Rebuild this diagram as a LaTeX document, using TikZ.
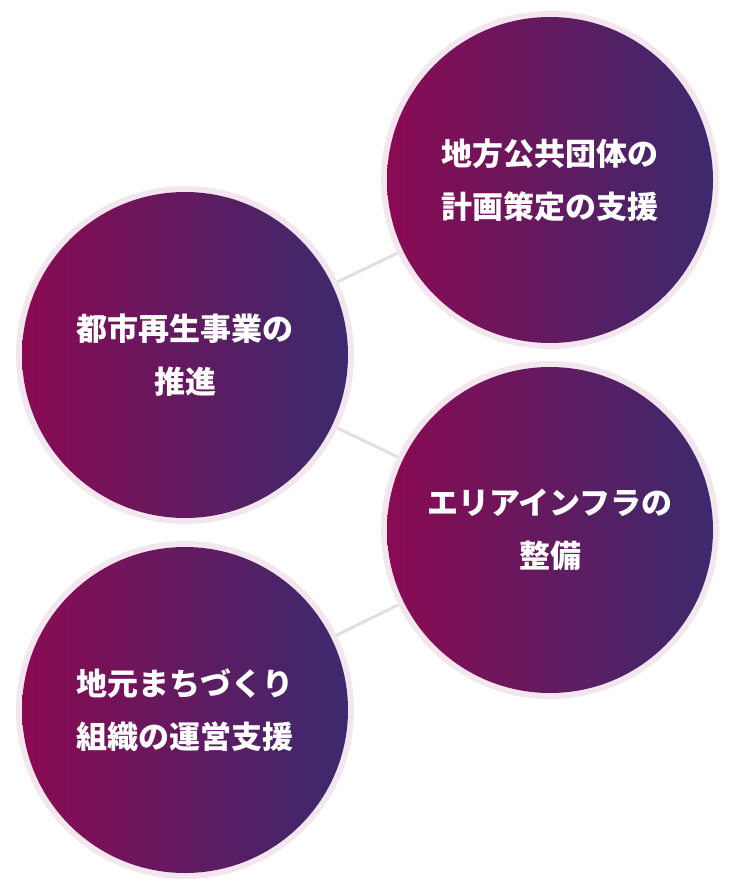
\documentclass[tikz,border=0pt]{standalone}
\usepackage{fontspec}
\newfontfamily\cjk{Noto Sans CJK JP}
\usetikzlibrary{backgrounds}
\definecolor{wine}{HTML}{8A0A52}
\definecolor{indigo}{HTML}{3B2A6E}
\definecolor{glow}{HTML}{F3E6EE}
\tikzset{
  bubble/.style={circle, minimum size=326pt, inner sep=0pt, left color=wine, right color=indigo,
    text=white, align=center, font=\cjk\bfseries\fontsize{31pt}{53pt}\selectfont},
  halo/.style={draw=glow, line width=6pt},
  link/.style={draw=black!12, line width=3pt}
}
\begin{document}
\begin{tikzpicture}[x=1pt,y=-1pt]
        \useasboundingbox (0,0) rectangle (737,893);
        % circles
        \node[bubble] (plan) at (550,180) {地方公共団体の\\計画策定の支援};
        \node[bubble] (urban) at (185,355) {都市再生事業の\\推進};
        \node[bubble] (infra) at (550,530) {エリアインフラの\\整備};
        \node[bubble] (local) at (185,710) {地元まちづくり\\組織の運営支援};
        % links and halos
        \begin{scope}[on background layer]
        \draw[link] (urban) -- (plan);
        \draw[link] (urban) -- (infra);
        \draw[link] (infra) -- (local);
        \foreach \c in {plan,urban,infra,local}
          \draw[halo] (\c.center) circle (166);
        \end{scope}
    \end{tikzpicture}
\end{document}
